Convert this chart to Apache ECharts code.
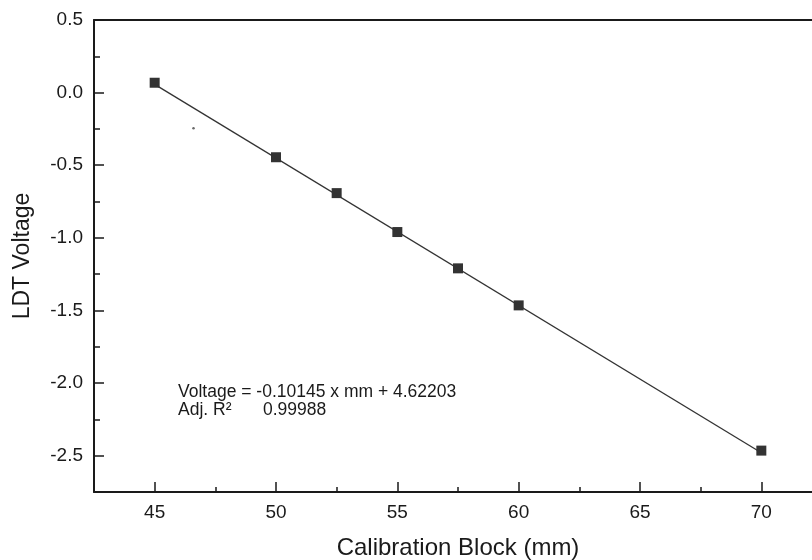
<!DOCTYPE html>
<html>
<head>
<meta charset="utf-8">
<script src="https://cdn.jsdelivr.net/npm/echarts@6/dist/echarts.min.js"></script>
<style>
  html, body { margin: 0; padding: 0; background: #fff; }
  #chart { width: 812px; height: 560px; }
</style>
</head>
<body>
<div id="chart"></div>
<script>
// Calibration measurements: block size (mm) against LDT output voltage
const blockMm = [45, 50, 52.5, 55, 57.5, 60, 70];
const voltage = [0.068, -0.445, -0.692, -0.960, -1.210, -1.465, -2.465];

// Stray mark on the plot
const strayPoint = [[46.6, -0.245]];

// Linear fit reported on the chart
const fitSlope = -0.10145;
const fitIntercept = 4.62203;
const fitAdjR2 = '0.99988';
const fitRange = [45, 70];

// Axis ticks
const xMajorTicks = [45, 50, 55, 60, 65, 70];
const xMinorTicks = [47.5, 52.5, 57.5, 62.5, 67.5];
const yMajorTicks = [-2.5, -2.0, -1.5, -1.0, -0.5, 0.0, 0.5];
const yMinorTicks = [-2.25, -1.75, -1.25, -0.75, -0.25, 0.25];

const fitLine = fitRange.map(x => [x, fitSlope * x + fitIntercept]);

const INK = '#1a1a1a';
const FONT = '"Liberation Sans", Arial, sans-serif';

const chart = echarts.init(document.getElementById('chart'));

const xBase = { type: 'value', min: 42.5, max: 72.5, gridIndex: 0 };
const yBase = { type: 'value', min: -2.75, max: 0.5, gridIndex: 0 };

chart.setOption({
  animation: false,
  backgroundColor: '#ffffff',
  grid: { left: 94, top: 20, right: -10, bottom: 68, containLabel: false, outerBoundsMode: 'none' },
  xAxis: [
    Object.assign({}, xBase, {
      position: 'bottom',
      name: 'Calibration Block (mm)',
      nameLocation: 'middle',
      nameGap: 44,
      nameTextStyle: { fontFamily: FONT, fontSize: 24, color: INK },
      axisLine: { show: true, onZero: false, lineStyle: { color: INK, width: 2 } },
      axisTick: { show: true, inside: true, length: 10, customValues: xMajorTicks, lineStyle: { color: INK, width: 1.5 } },
      axisLabel: { show: true, margin: 11, customValues: xMajorTicks, fontFamily: FONT, fontSize: 19, color: INK },
      splitLine: { show: false }
    }),
    Object.assign({}, xBase, {
      position: 'bottom',
      axisLine: { show: false, onZero: false },
      axisTick: { show: true, inside: true, length: 5, customValues: xMinorTicks, lineStyle: { color: INK, width: 1.5 } },
      axisLabel: { show: false },
      splitLine: { show: false }
    }),
    Object.assign({}, xBase, {
      position: 'top',
      axisLine: { show: true, onZero: false, lineStyle: { color: INK, width: 2 } },
      axisTick: { show: false },
      axisLabel: { show: false },
      splitLine: { show: false }
    })
  ],
  yAxis: [
    Object.assign({}, yBase, {
      position: 'left',
      name: 'LDT Voltage',
      nameLocation: 'middle',
      nameGap: 60,
      nameTextStyle: { fontFamily: FONT, fontSize: 23, color: INK },
      axisLine: { show: true, onZero: false, lineStyle: { color: INK, width: 2 } },
      axisTick: { show: true, inside: true, length: 10, customValues: yMajorTicks, lineStyle: { color: INK, width: 1.5 } },
      axisLabel: {
        show: true, margin: 11, customValues: yMajorTicks,
        fontFamily: FONT, fontSize: 19, color: INK,
        formatter: v => v.toFixed(1)
      },
      splitLine: { show: false }
    }),
    Object.assign({}, yBase, {
      position: 'left',
      axisLine: { show: false, onZero: false },
      axisTick: { show: true, inside: true, length: 6, customValues: yMinorTicks, lineStyle: { color: INK, width: 1.5 } },
      axisLabel: { show: false },
      splitLine: { show: false }
    })
  ],
  graphic: [
    {
      type: 'text', left: 178, top: 383,
      style: { text: 'Voltage = -0.10145 x mm + 4.62203', fontFamily: FONT, fontSize: 17.5, fill: INK }
    },
    {
      type: 'text', left: 178, top: 401,
      style: { text: 'Adj. R²', fontFamily: FONT, fontSize: 17.5, fill: INK }
    },
    {
      type: 'text', left: 263, top: 401,
      style: { text: fitAdjR2, fontFamily: FONT, fontSize: 17.5, fill: INK }
    }
  ],
  series: [
    {
      type: 'line', xAxisIndex: 0, yAxisIndex: 0,
      data: fitLine,
      symbol: 'none',
      lineStyle: { color: '#333', width: 1.3 },
      silent: true
    },
    {
      type: 'scatter', xAxisIndex: 0, yAxisIndex: 0,
      data: blockMm.map((x, i) => [x, voltage[i]]),
      symbol: 'rect', symbolSize: 10,
      itemStyle: { color: '#000' }
    },
    {
      type: 'scatter', xAxisIndex: 0, yAxisIndex: 0,
      data: strayPoint,
      symbol: 'circle', symbolSize: 2.5,
      itemStyle: { color: '#444' }
    }
  ]
});
</script>
</body>
</html>
